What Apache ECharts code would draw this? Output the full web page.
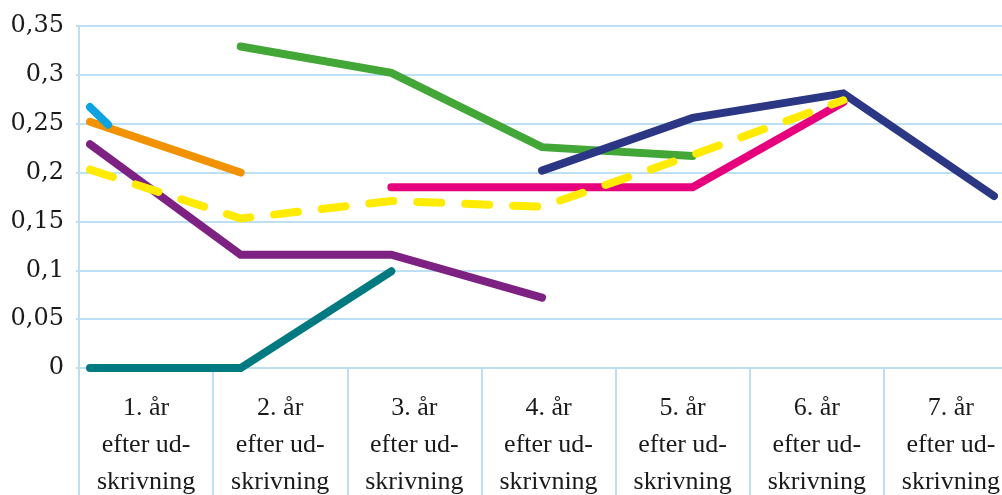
<!DOCTYPE html>
<html>
<head>
<meta charset="utf-8">
<script src="https://cdn.jsdelivr.net/npm/echarts@6/dist/echarts.min.js"></script>
<style>html,body{margin:0;padding:0;background:#fff;}#c{width:1002px;height:495px;}</style>
</head>
<body>
<div id="c"></div>
<script>
const categories = ['1. år\nefter ud-\nskrivning','2. år\nefter ud-\nskrivning','3. år\nefter ud-\nskrivning','4. år\nefter ud-\nskrivning','5. år\nefter ud-\nskrivning','6. år\nefter ud-\nskrivning','7. år\nefter ud-\nskrivning'];
const yTickLabels = ['0','0,05','0,1','0,15','0,2','0,25','0,3','0,35'];
const tealValues   = [0, 0, 0.099, null, null, null, null];
const orangeValues = [0.252, 0.2, null, null, null, null, null];
const purpleValues = [0.229, 0.116, 0.116, 0.072, null, null, null];
const greenValues  = [null, 0.329, 0.302, 0.226, 0.217, null, null];
const navyValues   = [null, null, null, 0.202, 0.256, 0.281, 0.176];
const pinkValues   = [null, null, 0.185, 0.185, 0.185, 0.272, null];
const yellowValues = [0.203, 0.153, 0.171, 0.165, 0.218, 0.274, null];
const cyanX        = [0, 0.12];
const cyanValues   = [0.267, 0.249];

const gridColor = '#bcdff3';

function pts(vals){ return vals.map((v,i)=>[i, v]); }
function line(name, data, color, extra){
  return Object.assign({
    name, type:'line', xAxisIndex:1, yAxisIndex:1, data,
    showSymbol:false, symbol:'none', connectNulls:false, animation:false,
    lineStyle:{color, width:8, cap:'round', join:'miter'}
  }, extra||{});
}

const chart = echarts.init(document.getElementById('c'), null, {renderer:'canvas'});
chart.setOption({
  animation:false,
  grid:[
    {left:79, right:-16, top:26, bottom:127, containLabel:false, outerBoundsMode:'none'},
    {left:90, right:8, top:26, bottom:127, containLabel:false, outerBoundsMode:'none'}
  ],
  xAxis:[
    {type:'category', gridIndex:0, data:categories, boundaryGap:true,
     axisLine:{show:true, lineStyle:{color:gridColor, width:2}},
     axisTick:{show:true, length:140, lineStyle:{color:gridColor, width:2}},
     splitLine:{show:false},
     axisLabel:{interval:0, fontFamily:'Liberation Serif', fontSize:26, color:'#1a1a1a', lineHeight:37, margin:22}},
    {type:'value', gridIndex:1, min:0, max:6, show:false}
  ],
  yAxis:[
    {type:'value', gridIndex:0, min:0, max:0.35, interval:0.05,
     axisLine:{show:true, lineStyle:{color:gridColor, width:2}},
     axisTick:{show:true, length:3, lineStyle:{color:gridColor, width:2}},
     splitLine:{show:true, lineStyle:{color:gridColor, width:2}},
     axisLabel:{fontFamily:'DejaVu Serif', fontSize:24, color:'#1a1a1a', margin:15,
       formatter:(v,i)=>yTickLabels[Math.round(v/0.05)]}},
    {type:'value', gridIndex:1, min:0, max:0.35, show:false}
  ],
  series:[
    line('teal', pts(tealValues), '#007a80'),
    line('orange', pts(orangeValues), '#f39200'),
    line('purple', pts(purpleValues), '#7d2182'),
    line('green', pts(greenValues), '#42a737'),
    line('navy', pts(navyValues), '#2b3684'),
    line('pink', pts(pinkValues), '#e6007e'),
    line('cyan', cyanX.map((x,i)=>[x, cyanValues[i]]), '#0ea2e0'),
    line('yellow', pts(yellowValues), '#ffeb00', {lineStyle:{color:'#ffeb00', width:8, cap:'round', type:[24,24]}})
  ]
});
</script>
</body>
</html>
